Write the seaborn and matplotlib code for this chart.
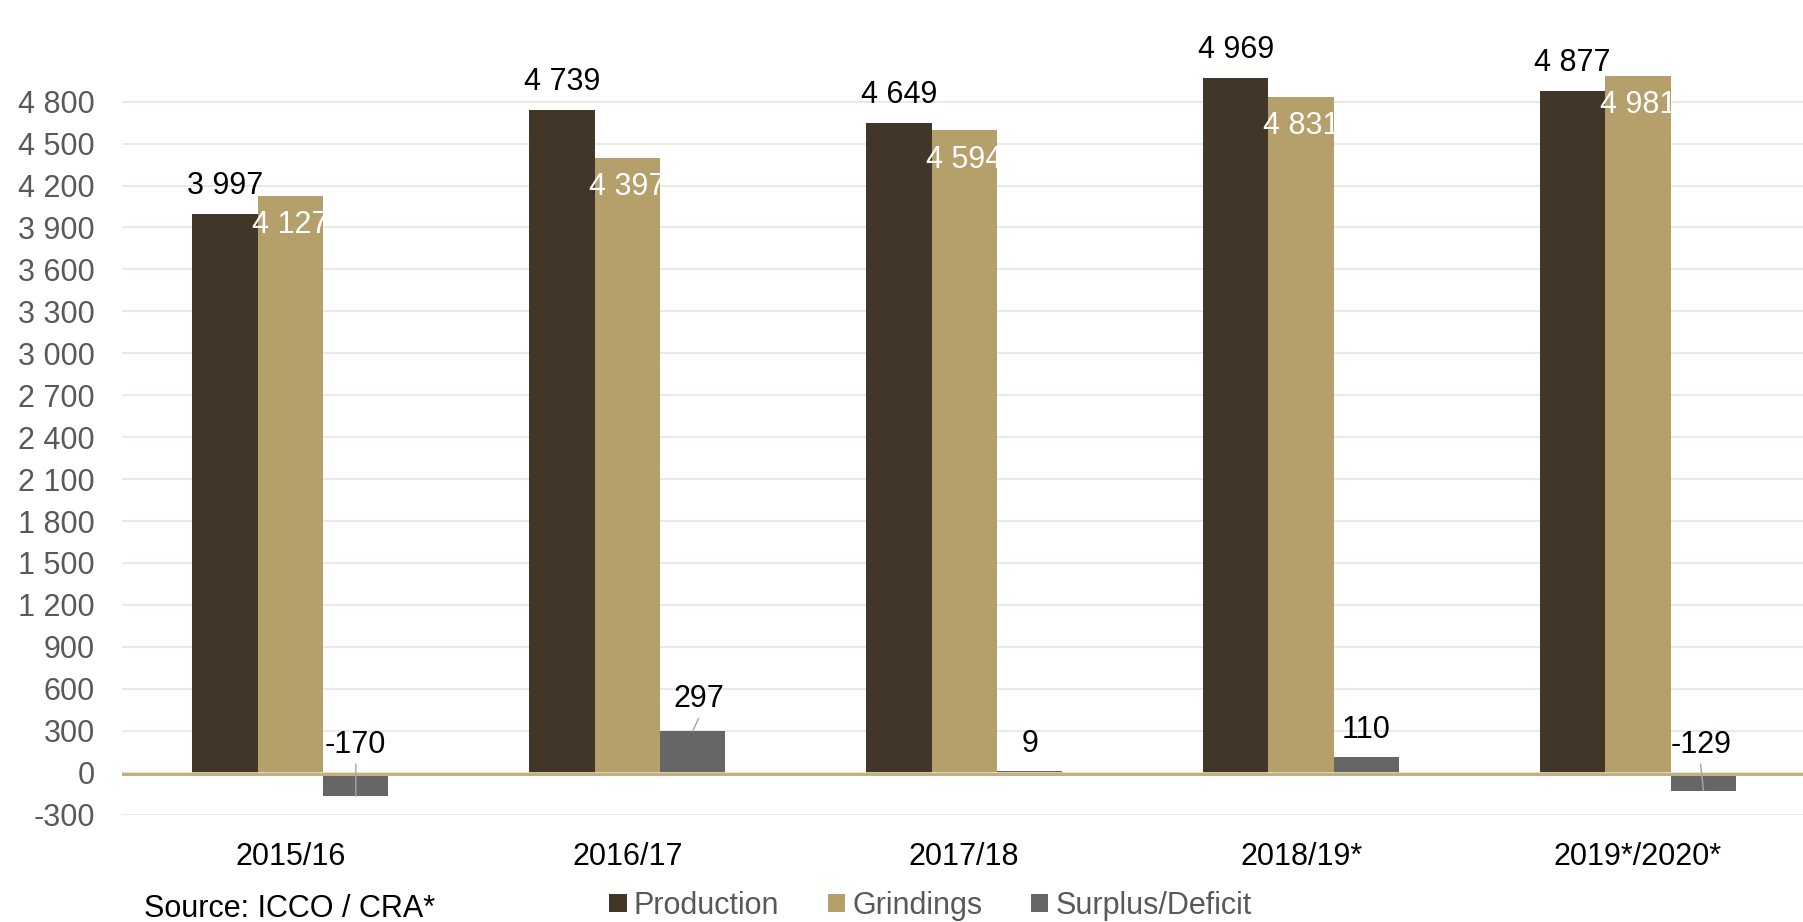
import matplotlib
matplotlib.use("Agg")
import matplotlib.pyplot as plt
import seaborn as sns
import pandas as pd
from matplotlib.patches import Patch, ConnectionPatch
from matplotlib.transforms import offset_copy
from matplotlib.ticker import FuncFormatter

# Cocoa market balance (thousand tonnes)
seasons = ["2015/16", "2016/17", "2017/18", "2018/19*", "2019*/2020*"]
production = [3997, 4739, 4649, 4969, 4877]
grindings = [4127, 4397, 4594, 4831, 4981]
surplus = [-170, 297, 9, 110, -129]
series_names = ["Production", "Grindings", "Surplus/Deficit"]
y_ticks = list(range(-300, 5100, 300))
source_note = "Source: ICCO / CRA*"

colors = ["#423628", "#B5A06C", "#666666"]
# label nudges for the surplus/deficit values (points) and which get a leader line
surplus_dx = [0, 4.3, 0, 0, -2]
surplus_dy = [20, 23, 20, 19.5, 20]
surplus_leader = [True, True, False, False, True]

sns.set_theme(style="white")
plt.rcParams["font.family"] = ["Liberation Sans", "DejaVu Sans"]

df = pd.DataFrame({
    "season": seasons * 3,
    "series": [name for name in series_names for _ in seasons],
    "value": production + grindings + surplus,
})

W, H = 1803, 922
fig = plt.figure(figsize=(W / 100, H / 100), dpi=100)
ax = fig.add_axes([122 / W, (H - 814.6) / H, 1684.5 / W, 814.6 / H])

sns.barplot(data=df, x="season", y="value", hue="series", order=seasons,
            hue_order=series_names, palette=colors, width=0.582, saturation=1,
            errorbar=None, legend=False, linewidth=0, ax=ax, zorder=2)

ax.set_xlim(-0.5, len(seasons) - 0.5)
ax.set_ylim(-300, 5527)
ax.set_yticks(y_ticks)


def thousands(v, _pos=None):
    s = f"{abs(int(round(v))):,}".replace(",", " ")
    return ("-" if v < 0 else "") + s


ax.yaxis.set_major_formatter(FuncFormatter(thousands))
ax.grid(axis="y", color="#ECE7DE", linewidth=1.3)
ax.grid(axis="x", visible=False)
ax.set_axisbelow(True)
for sp in ax.spines.values():
    sp.set_visible(False)
ax.tick_params(axis="y", length=0, pad=19.5, labelsize=22, labelcolor="#595959")
ax.tick_params(axis="x", length=0, pad=19.7, labelsize=22, labelcolor="black")
ax.set_xlabel("")
ax.set_ylabel("")

# zero baseline: light rule with a tan line just beneath it
ax.axhline(0, color="#E6E2DA", linewidth=1.2, zorder=3)
ax.axhline(-12, color="#C2B07F", linewidth=2.2, zorder=3)

fs = 22
prod_bars, grind_bars, surp_bars = ax.containers[:3]

for bar, v in zip(prod_bars, production):
    cx = bar.get_x() + bar.get_width() / 2
    ax.annotate(thousands(v), xy=(cx, v), xytext=(0, 20), textcoords="offset points",
                ha="center", va="center", fontsize=fs, color="black", zorder=5)

for bar, v in zip(grind_bars, grindings):
    cx = bar.get_x() + bar.get_width() / 2
    ax.annotate(thousands(v), xy=(cx, v), xytext=(0, -21), textcoords="offset points",
                ha="center", va="center", fontsize=fs, color="white", zorder=5)

for bar, v, dx, dy, lead in zip(surp_bars, surplus, surplus_dx, surplus_dy, surplus_leader):
    cx = bar.get_x() + bar.get_width() / 2
    anchor = max(v, 0)
    ax.annotate(thousands(v), xy=(cx, anchor), xytext=(dx, dy), textcoords="offset points",
                ha="center", va="center", fontsize=fs, color="black", zorder=5)
    if lead:
        start = offset_copy(ax.transData, fig=fig, x=dx, y=dy - 13.7, units="points")
        line = ConnectionPatch(xyA=(cx, anchor), coordsA=start, xyB=(cx, v),
                               coordsB=ax.transData, color="#A6A6A6", linewidth=1.0,
                               zorder=6)
        ax.add_artist(line)

handles = [Patch(facecolor=c, edgecolor="none") for c in colors]
fig.legend(handles, series_names, loc="center", bbox_to_anchor=(930.5 / W, 16 / H),
           ncol=3, frameon=False, fontsize=fs, handlelength=0.56, handleheight=0.55,
           handletextpad=0.23, columnspacing=1.6, borderpad=0, labelcolor="#595959")

fig.text(144 / W, 5 / H, source_note, fontsize=fs, color="black", ha="left", va="baseline")

fig.savefig("out.png", dpi=100)
